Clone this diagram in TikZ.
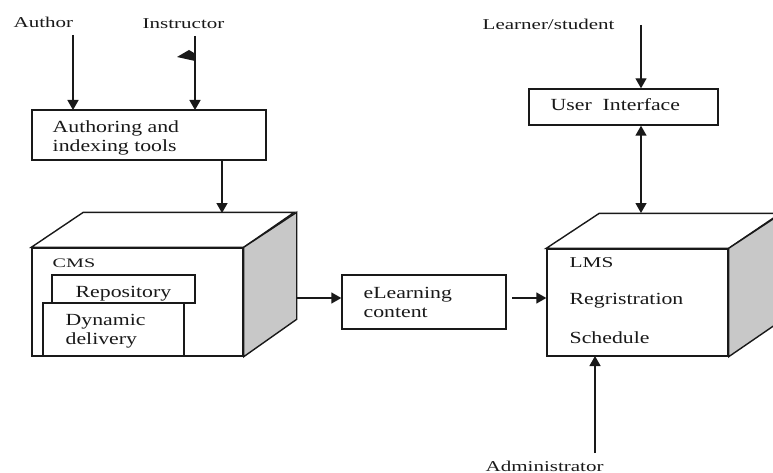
\documentclass[tikz,border=0pt]{standalone}
\usepackage{fontspec}
\setmainfont{Liberation Serif}
\usetikzlibrary{arrows.meta}
% horizontally widened text
\newcommand{\wtext}[2]{\scalebox{#1}[1]{#2}}
\definecolor{cubeside}{RGB}{200,200,200}
\definecolor{inkline}{RGB}{25,25,25}

\begin{document}
\begin{tikzpicture}[x=1pt,y=-1pt,
  line width=1.4pt, draw=inkline,
  box/.style={draw=inkline, line width=1.4pt, fill=white, inner sep=0pt, rectangle},
  arr/.style={draw=inkline, line width=1.4pt, -{Triangle[length=10pt,width=11pt]}},
  dblarr/.style={draw=inkline, line width=1.4pt, {Triangle[length=10pt,width=11pt]}-{Triangle[length=10pt,width=11pt]}},
  lbl/.style={font=\fontsize{15}{18}\selectfont, text=inkline, anchor=base west, inner sep=0pt},
  txt/.style={font=\fontsize{17}{19}\selectfont, text=inkline, anchor=base west, inner sep=0pt},
  small/.style={font=\fontsize{13}{15}\selectfont, text=inkline, anchor=base west, inner sep=0pt}]

\useasboundingbox (0,0) rectangle (773,473);

% ---- actors ----
\node[lbl] (author) at (13,28) {\wtext{1.4}{Author}};
\node[lbl] (instr) at (142,29) {\wtext{1.4}{Instructor}};
\node[lbl] (learner) at (482,30) {\wtext{1.4}{Learner/student}};
\node[lbl] (admin) at (485,471) {\wtext{1.4}{Administrator}};

% ---- authoring tools ----
\node[box, minimum width=234pt, minimum height=50pt] (auth) at (149,135) {};
\node[txt] (authtxt) at (52,133) {\wtext{1.28}{\begin{tabular}[t]{@{}l@{}}Authoring and\\indexing tools\end{tabular}}};

% ---- user interface ----
\node[box, minimum width=189pt, minimum height=36pt] (ui) at (623.5,107) {};
\node[txt] (uitxt) at (550,111) {\wtext{1.28}{User\ \ Interface}};

% ---- CMS cube ----
\node[box, minimum width=211pt, minimum height=108pt] (cms) at (137.5,302) {};
\draw[fill=white] (cms.north west) -- ++(52,-35) -- ++(211,0) -- (cms.north east) -- cycle;
\draw[fill=cubeside] (cms.north east) -- ++(53,-35) -- ++(0,107) -- (cms.south east) -- cycle;
\node[small] (cmstxt) at (52,267) {\wtext{1.55}{CMS}};
\node[box, minimum width=141pt, minimum height=53pt] (dyn) at (113.5,329.5) {};
\node[box, minimum width=143pt, minimum height=28pt] (repo) at (123.5,289) {};
\node[txt] (repotxt) at (75,297) {\wtext{1.28}{Repository}};
\node[txt] (dyntxt) at (65,325) {\wtext{1.28}{\begin{tabular}[t]{@{}l@{}}Dynamic\\delivery\end{tabular}}};
\coordinate (cmstop) at (222,213);
\coordinate (cmsside) at (296,298);

% ---- eLearning content ----
\node[box, minimum width=164pt, minimum height=54pt] (elearn) at (424,302) {};
\node[txt] (eltxt) at (363,298) {\wtext{1.28}{\begin{tabular}[t]{@{}l@{}}eLearning\\content\end{tabular}}};

% ---- LMS cube (runs past the right edge) ----
\begin{scope}
  \clip (0,0) rectangle (773,473);
  \node[box, minimum width=181pt, minimum height=107pt] (lms) at (637.5,302.5) {};
  \draw[fill=white] (lms.north west) -- ++(53,-35) -- ++(181,0) -- (lms.north east) -- cycle;
  \draw[fill=cubeside] (lms.north east) -- ++(53,-35) -- ++(0,107) -- (lms.south east) -- cycle;
\end{scope}
\node[lbl] (lmstxt) at (569,267) {\wtext{1.42}{LMS}};
\node[txt] (regtxt) at (569,304) {\wtext{1.28}{Regristration}};
\node[txt] (schtxt) at (569,343) {\wtext{1.28}{Schedule}};
\coordinate (lmstop) at (641,213);
\coordinate (lmsbot) at (595,356);
\coordinate (elout) at (512,298);

% ---- connectors ----
\coordinate (authin) at (73,110);
\coordinate (instin) at (195,110);
\coordinate (learnsrc) at (641,25);
\coordinate (adminsrc) at (595,453);
\draw[arr] (authin |- author.south) ++(0,6) -- (authin);
\draw[arr] (instin |- instr.south) ++(0,6) -- (instin);
% small flag on the instructor line
\fill[inkline] (177,57) -- (189,50) -- (194,53) -- (195,61) -- cycle;
\draw[arr] (auth.south -| cmstop) -- (cmstop);
\draw[arr] (learnsrc) -- (ui.north -| learnsrc);
\draw[dblarr] (ui.south -| lmstop) -- (lmstop);
\draw[arr] (cmsside) -- (cmsside -| elearn.west);
\draw[arr] (elout) -- (elout -| lms.west);
\draw[arr] (adminsrc) -- (lmsbot);

\end{tikzpicture}
\end{document}
